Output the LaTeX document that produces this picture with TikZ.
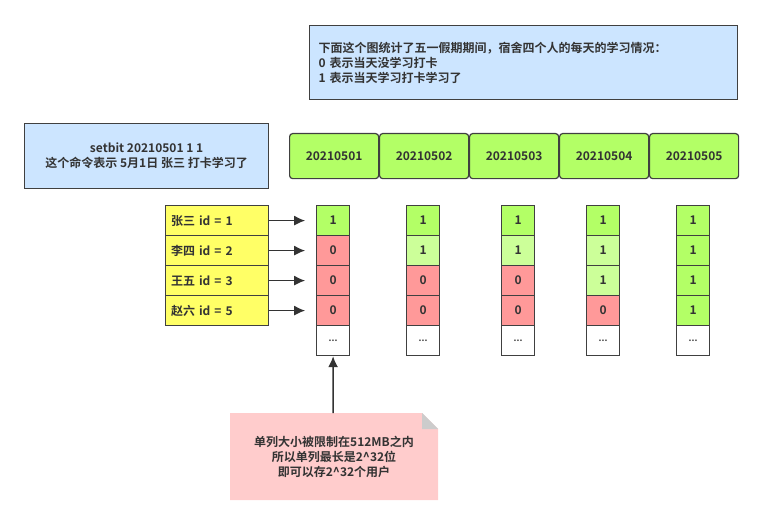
\documentclass[tikz,border=0pt]{standalone}
\usepackage{fontspec}
\setmainfont{Noto Sans CJK SC}[BoldFont={Noto Sans CJK SC Bold}]
\usetikzlibrary{arrows.meta}
\definecolor{bl}{RGB}{204,229,255}
\definecolor{cg}{RGB}{179,255,102}
\definecolor{cl}{RGB}{204,255,153}
\definecolor{cr}{RGB}{255,153,153}
\definecolor{cy}{RGB}{255,255,102}
\definecolor{cp}{RGB}{255,204,204}
\begin{document}
\begin{tikzpicture}[x=1pt,y=-1pt,font=\bfseries\fontsize{12}{15}\selectfont,
  bx/.style={draw=black!75,line width=1.2pt,inner sep=0pt,anchor=north west,text=black!80},
  G/.style={fill=cg},
  L/.style={fill=cl},
  R/.style={fill=cr},
  W/.style={fill=white},
  arr/.style={draw=black!80,line width=1.5pt,-{Latex[length=11pt,width=10pt]}}]
\useasboundingbox (0,0) rectangle (764,527);
\node[bx,fill=bl,minimum width=428,minimum height=74,align=left,text width=410] (info) at (309,25) {下面这个图统计了五一假期期间，宿舍四个人的每天的学习情况：\\0 表示当天没学习打卡\\1 表示当天学习打卡学习了};
\node[bx,fill=bl,minimum width=244,minimum height=65,align=center] (cmd) at (24,123) {setbit 20210501 1 1\\这个命令表示 5月1日 张三 打卡学习了};
\foreach \d [count=\i] in {20210501,20210502,20210503,20210504,20210505}
  \node[bx,G,rounded corners=3pt,minimum width=89,minimum height=45] (h\i) at (289+90*\i-90,133) {\d};
\foreach \t [count=\r] in {张三 id = 1,李四 id = 2,王五 id = 3,赵六 id = 5}
  \node[bx,fill=cy,minimum width=103,minimum height=30,text width=92,align=left] (p\r) at (165,205+30*\r-30) {\t};
\foreach \x [count=\c] in {316,406,501,586,676}{
  \foreach \r in {1,...,5}
    \coordinate (c\c r\r) at (\x,205+30*\r-30);
}
\def\cell#1#2#3#4{\node[bx,#3,minimum width=33,minimum height=30] (b#1#2) at (c#1r#2) {#4};}
\cell11G1 \cell12R0 \cell13R0 \cell14R0 \cell15W{\fontsize{9}{9}\selectfont...}
\cell21G1 \cell22L1 \cell23R0 \cell24R0 \cell25W{\fontsize{9}{9}\selectfont...}
\cell31G1 \cell32L1 \cell33R0 \cell34R0 \cell35W{\fontsize{9}{9}\selectfont...}
\cell41G1 \cell42L1 \cell43L1 \cell44R0 \cell45W{\fontsize{9}{9}\selectfont...}
\cell51G1 \cell52G1 \cell53G1 \cell54G1 \cell55W{\fontsize{9}{9}\selectfont...}
\foreach \r in {1,...,4} \draw[arr] (p\r.east) -- ++(36,0);
\fill[cp] (230,413) -- (422,413) -- (438,429) -- (438,500) -- (230,500) -- cycle;
\fill[black!20] (422,413) -- (438,429) -- (422,429) -- cycle;
\node[align=center,text=black!80] (note) at (334,457) {单列大小被限制在512MB之内\\所以单列最长是2\^{}32位\\即可以存2\^{}32个用户};
\coordinate (nt) at (333,413);
\draw[arr] (nt) -- (b15.south);
\end{tikzpicture}
\end{document}
